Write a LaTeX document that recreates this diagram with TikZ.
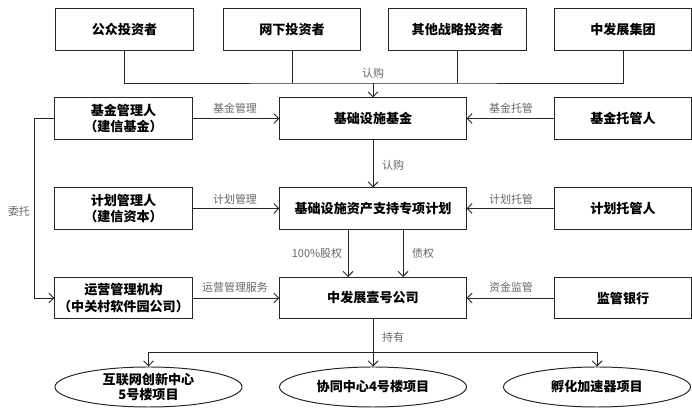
\documentclass[tikz,border=0pt]{standalone}
\usepackage{fontspec}
\newfontfamily\cjk{Noto Sans CJK SC}
\usetikzlibrary{arrows.meta,shapes.geometric}
\tikzset{
	caja/.style={draw=black!85, line width=0.7pt, minimum width=3.425cm, minimum height=1.025cm, align=center, inner sep=1pt, font=\cjk\bfseries\fontsize{9.3}{12}\selectfont},
	cajag/.style={caja, minimum width=4.65cm},
	elipse/.style={ellipse, draw=black!85, line width=0.7pt, minimum width=4.675cm, minimum height=1cm, align=center, inner sep=0pt, font=\cjk\bfseries\fontsize{9.3}{10.6}\selectfont},
	etiq/.style={font=\cjk\fontsize{7.8}{9}\selectfont, text=black!60, inner sep=0pt},
	linea/.style={draw=black!85, line width=0.7pt},
	flecha/.style={linea, -{Straight Barb[length=3.5pt,width=7pt]}}
}
\begin{document}
\begin{tikzpicture}[x=0.025cm,y=-0.025cm]
		\useasboundingbox (0,0) rectangle (692,411);
		%Fila 1: inversores
		\node[caja] (publico) at (124.5,29.5) {公众投资者};
		\node[caja] (red) at (292,29.5) {网下投资者};
		\node[caja] (otros) at (457.5,29.5) {其他战略投资者};
		\node[caja] (grupo) at (623,29.5) {中发展集团};
		%Fila 2
		\node[caja] (gestor) at (123.5,118.5) {基金管理人\\（建信基金）};
		\node[cajag] (fondo) at (373,118.5) {基础设施基金};
		\node[caja] (custodio) at (623,118.5) {基金托管人};
		%Fila 3
		\node[caja] (plangestor) at (123.5,208.5) {计划管理人\\（建信资本）};
		\node[cajag] (plan) at (373,208.5) {基础设施资产支持专项计划};
		\node[caja] (plancustodio) at (623,208.5) {计划托管人};
		%Fila 4
		\node[caja] (operador) at (123.5,298) {运营管理机构\\（中关村软件园公司）};
		\node[cajag] (empresa) at (373,298) {中发展壹号公司};
		\node[caja] (banco) at (623,298) {监管银行};
		%Proyectos
		\node[elipse] (proy1) at (148.5,387) {互联网创新中心\\5号楼项目};
		\node[elipse] (proy2) at (373,387) {协同中心4号楼项目};
		\node[elipse] (proy3) at (597,387) {孵化加速器项目};
		
		%Puntos de union
		\coordinate (union) at (373,83);
		\coordinate (reparto) at (373,352);
		\coordinate (eq) at (348,0);
		\coordinate (deuda) at (403,0);
		
		%Suscripcion
		\draw[linea] (publico.south) |- (union) -| (grupo.south);
		\draw[linea] (red.south) -- (red.south |- union);
		\draw[linea] (otros.south) -- (otros.south |- union);
		\draw[flecha] (union) -- (fondo.north);
		\node[etiq] (rengou) at (373,73) {认购};
		%Gestion y custodia del fondo
		\draw[flecha] (gestor) -- (fondo);
		\node[etiq] (gestion) at (235,108) {基金管理};
		\draw[flecha] (custodio) -- (fondo);
		\node[etiq] (custodia) at (511,108) {基金托管};
		\draw[flecha] (fondo) -- (plan);
		\node[etiq] (rengoub) at (393,165) {认购};
		%Plan
		\draw[flecha] (plangestor) -- (plan);
		\node[etiq] (plangestion) at (235,199) {计划管理};
		\draw[flecha] (plancustodio) -- (plan);
		\node[etiq] (plancustodia) at (511,199) {计划托管};
		\draw[flecha] (plan.south -| eq) -- (empresa.north -| eq);
		\node[etiq] (acciones) at (317,253) {100\%股权};
		\draw[flecha] (plan.south -| deuda) -- (empresa.north -| deuda);
		\node[etiq] (credito) at (423,253) {债权};
		%Empresa
		\draw[flecha] (operador) -- (empresa);
		\node[etiq] (servicio) at (235,287) {运营管理服务};
		\draw[flecha] (banco) -- (empresa);
		\node[etiq] (vigilancia) at (511,287) {资金监管};
		%Encargo
		\draw[flecha] (gestor.west) -- ++(-20,0) |- (operador.west);
		\node[etiq] (encargo) at (19,211) {委托};
		%Tenencia
		\draw[flecha] (empresa.south) -- (proy2.north);
		\draw[flecha] (reparto) -| (proy1.north);
		\draw[flecha] (reparto) -| (proy3.north);
		\node[etiq] (tenencia) at (393,337) {持有};
		
	\end{tikzpicture}
\end{document}
